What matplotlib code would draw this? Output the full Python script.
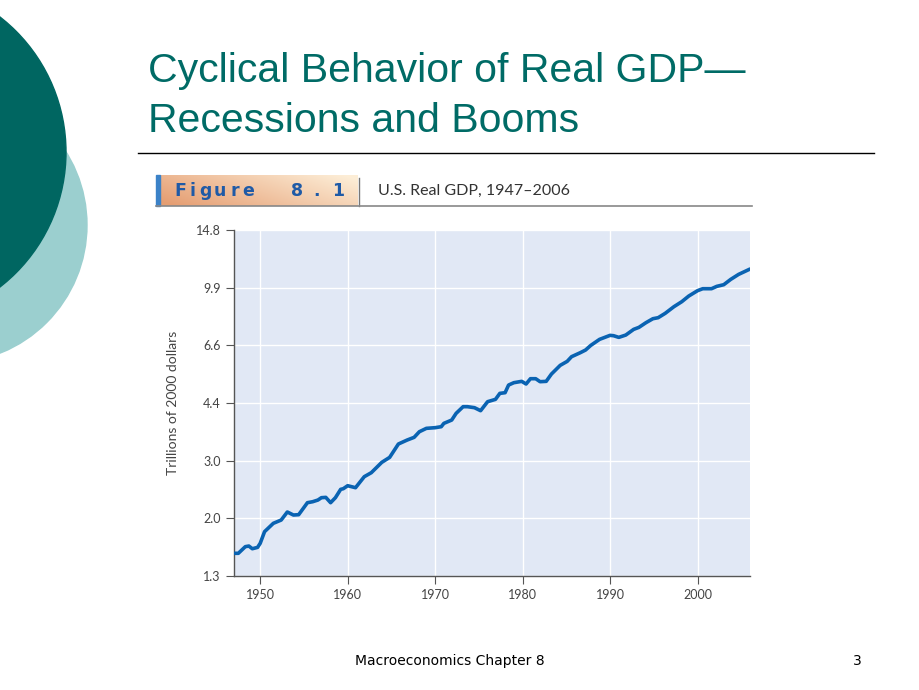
import numpy as np
import matplotlib
matplotlib.use("Agg")
import matplotlib.pyplot as plt
from matplotlib.patches import Circle, Rectangle

# Real GDP, trillions of 2000 dollars
years = [1947.0, 1947.5, 1948.3, 1948.7, 1949.1, 1949.7, 1950.0, 1950.5, 1951.5,
         1952.4, 1953.1, 1953.8, 1954.4, 1955.4, 1956.0, 1956.6, 1957.0, 1957.5,
         1958.05, 1958.6, 1959.2, 1959.5, 1960.0, 1960.9, 1961.9, 1962.7, 1963.9,
         1964.8, 1965.8, 1966.8, 1967.6, 1968.2, 1969.0, 1970.0, 1970.7, 1971.0,
         1971.9, 1972.4, 1973.2, 1973.7, 1974.5, 1975.2, 1976.0, 1976.9, 1977.4,
         1978.0, 1978.4, 1979.0, 1979.9, 1980.4, 1980.9, 1981.5, 1982.0, 1982.7,
         1983.3, 1984.3, 1985.1, 1985.6, 1986.6, 1987.2, 1987.8, 1988.8, 1990.0,
         1990.4, 1991.0, 1991.8, 1992.7, 1993.3, 1994.1, 1994.9, 1995.5, 1996.3,
         1997.3, 1998.2, 1999.0, 2000.0, 2000.6, 2001.6, 2002.2, 2003.0, 2003.8,
         2004.7, 2006.0]
gdp = [1.525, 1.525, 1.598, 1.605, 1.575, 1.590, 1.636, 1.776, 1.883,
       1.927, 2.039, 1.996, 2.001, 2.177, 2.192, 2.218, 2.255, 2.260,
       2.177, 2.255, 2.391, 2.402, 2.453, 2.419, 2.614, 2.688, 2.891,
       2.994, 3.289, 3.382, 3.447, 3.586, 3.672, 3.689, 3.715, 3.803,
       3.893, 4.080, 4.276, 4.276, 4.246, 4.157, 4.429, 4.502, 4.696,
       4.718, 4.979, 5.062, 5.110, 5.015, 5.206, 5.206, 5.098, 5.110,
       5.380, 5.718, 5.881, 6.078, 6.251, 6.369, 6.581, 6.865, 7.061,
       7.044, 6.962, 7.077, 7.365, 7.469, 7.718, 7.938, 7.995, 8.242,
       8.637, 8.947, 9.310, 9.666, 9.803, 9.803, 9.965, 10.083, 10.468,
       10.842, 11.256]

y_tick_labels = ["1.3", "2.0", "3.0", "4.4", "6.6", "9.9", "14.8"]
x_ticks = [1950, 1960, 1970, 1980, 1990, 2000]

teal = "#006B66"
fig = plt.figure(figsize=(9.2, 6.9), dpi=100)

# slide decoration layer, 1 unit = 1 pixel
bg = fig.add_axes([0, 0, 1, 1])
bg.set_xlim(0, 920)
bg.set_ylim(690, 0)
bg.axis("off")
bg.add_patch(Circle((-51, 225), 138, color="#9BCFCF", zorder=1))
bg.add_patch(Circle((-105, 152), 171, color="#006661", zorder=2))

bg.text(148, 82, "Cyclical Behavior of Real GDP\u2014", color=teal,
        fontsize=29.5, family="Liberation Sans", va="baseline")
bg.text(148, 132, "Recessions and Booms", color=teal,
        fontsize=29.5, family="Liberation Sans", va="baseline")
bg.plot([138, 874], [153, 153], color="black", lw=1)

# "Figure 8.1" header
gx = np.linspace(0, 1, 200)
gy = np.linspace(0, 1, 30)
X, Y = np.meshgrid(gx, gy)
t = np.clip(0.75 * X + 0.35 * (1 - Y) - 0.05, 0, 1)
c0 = np.array([0.90, 0.62, 0.45])
c1 = np.array([0.99, 0.93, 0.84])
img = c0 + (c1 - c0) * t[..., None]
bg.imshow(img, extent=(160, 358, 206, 175), aspect="auto", zorder=3)
bg.add_patch(Rectangle((156, 175), 4.5, 31, color="#3B82C8", zorder=4))
for ch, xc in zip("Figure8.1", [180, 193, 205, 220, 235, 248, 297, 317, 338]):
    bg.text(xc, 191, ch, ha="center", va="center", fontsize=12.5,
            fontweight="bold", color="#1F5AA6", zorder=5)
bg.plot([359, 359], [178, 206], color="#777777", lw=1, zorder=5)
bg.plot([156, 752], [206, 206], color="#888888", lw=1.2, zorder=5)
bg.text(378, 191, "U.S. Real GDP, 1947\u20132006", ha="left", va="center",
        fontsize=11.5, family="Lato", color="#333333")

bg.text(355, 661, "Macroeconomics Chapter 8", fontsize=10, va="center",
        color="black")
bg.text(862, 661, "3", fontsize=10, va="center", ha="right", color="black")

# chart
ax = fig.add_axes([0.2543, 0.1652, 0.5609, 0.5014])
ax.set_facecolor("#E1E8F5")
ax.plot(years, gdp, color="#0A63B2", lw=2.6, solid_joinstyle="round",
        solid_capstyle="round", zorder=3)
ax.set_yscale("log")
ax.set_ylim(1.3, 14.8)
ax.set_xlim(1947, 2006)
y_ticks = [1.3 * 1.5 ** k for k in range(len(y_tick_labels))]
ax.set_yticks(y_ticks)
ax.set_yticklabels(y_tick_labels)
ax.yaxis.set_minor_locator(matplotlib.ticker.NullLocator())
ax.set_xticks(x_ticks)
ax.grid(True, color="white", lw=1)
ax.set_axisbelow(True)
for s in ["top", "right"]:
    ax.spines[s].set_visible(False)
for s in ["left", "bottom"]:
    ax.spines[s].set_color("#555555")
    ax.spines[s].set_linewidth(1)
ax.tick_params(axis="both", direction="out", length=6, width=0.8,
               color="#555555", labelsize=9, labelcolor="#444444")
for lbl in ax.get_xticklabels() + ax.get_yticklabels():
    lbl.set_family("Lato")
ax.set_ylabel("Trillions of 2000 dollars", fontsize=10, family="Lato",
              color="#444444", labelpad=12)

fig.savefig("out.png", dpi=100)
